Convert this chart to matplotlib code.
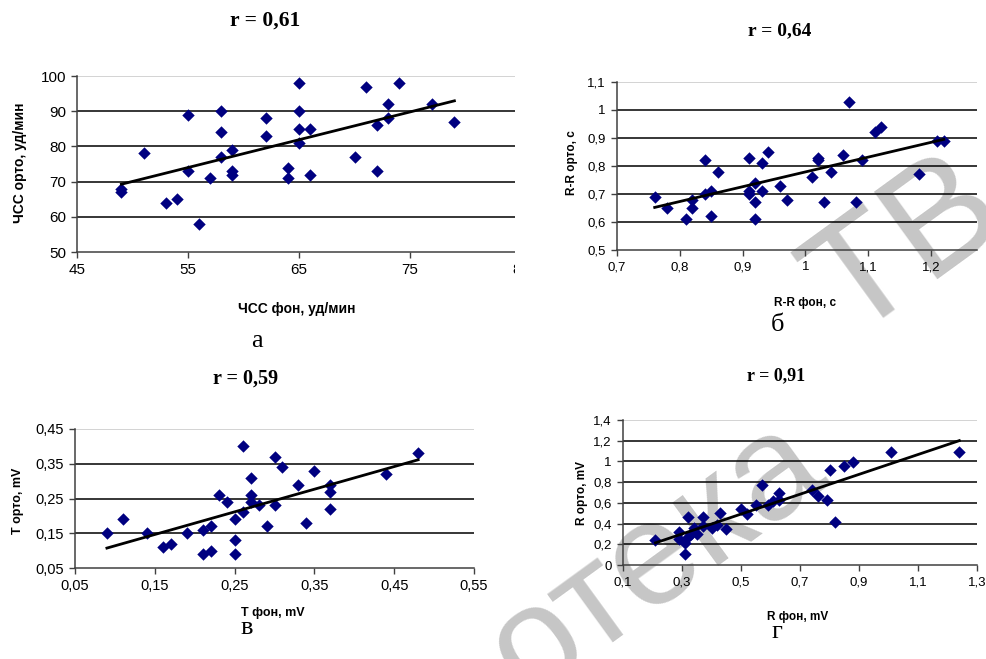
# - Importación de librerías:

import numpy as np
import matplotlib
matplotlib.use("Agg")
import matplotlib.pyplot as plt
from matplotlib.patches import Rectangle
from matplotlib.ticker import FuncFormatter

# - Datos:

# а) ЧСС
hr_fon = [49, 49, 51, 53, 54, 55, 55, 56, 57, 58, 58, 58, 59, 59, 59, 62, 62,
          64, 64, 65, 65, 65, 65, 66, 66, 70, 71, 72, 72, 73, 73, 74, 77, 79]
hr_orto = [68, 67, 78, 64, 65, 89, 73, 58, 71, 90, 84, 77, 79, 73, 72, 88, 83,
           74, 71, 98, 90, 85, 81, 85, 72, 77, 97, 86, 73, 92, 88, 98, 92, 87]

# б) R-R
rr_fon = [0.76, 0.78, 0.81, 0.82, 0.82, 0.84, 0.84, 0.85, 0.85, 0.86, 0.91, 0.91,
          0.91, 0.92, 0.92, 0.92, 0.93, 0.93, 0.94, 0.96, 0.97, 1.01, 1.02, 1.02,
          1.03, 1.04, 1.06, 1.07, 1.08, 1.09, 1.11, 1.12, 1.18, 1.21, 1.22]
rr_orto = [0.69, 0.65, 0.61, 0.65, 0.68, 0.82, 0.70, 0.71, 0.62, 0.78, 0.83, 0.71,
           0.70, 0.74, 0.67, 0.61, 0.81, 0.71, 0.85, 0.73, 0.68, 0.76, 0.83, 0.82,
           0.67, 0.78, 0.84, 1.03, 0.67, 0.82, 0.92, 0.94, 0.77, 0.89, 0.89]

# в) T
t_fon = [0.09, 0.11, 0.14, 0.16, 0.17, 0.19, 0.21, 0.21, 0.22, 0.22, 0.23, 0.24,
         0.25, 0.25, 0.25, 0.26, 0.26, 0.27, 0.27, 0.27, 0.28, 0.29, 0.30, 0.30,
         0.31, 0.33, 0.34, 0.35, 0.37, 0.37, 0.37, 0.44, 0.48]
t_orto = [0.15, 0.19, 0.15, 0.11, 0.12, 0.15, 0.16, 0.09, 0.17, 0.10, 0.26, 0.24,
          0.19, 0.13, 0.09, 0.40, 0.21, 0.31, 0.26, 0.24, 0.23, 0.17, 0.37, 0.23,
          0.34, 0.29, 0.18, 0.33, 0.29, 0.27, 0.22, 0.32, 0.38]

# г) R
r_fon = [0.21, 0.29, 0.29, 0.31, 0.31, 0.32, 0.32, 0.33, 0.34, 0.35, 0.37, 0.37,
         0.40, 0.42, 0.43, 0.45, 0.50, 0.52, 0.55, 0.57, 0.59, 0.61, 0.63, 0.63,
         0.74, 0.76, 0.79, 0.80, 0.82, 0.85, 0.88, 1.01, 1.24]
r_orto = [0.24, 0.32, 0.25, 0.21, 0.11, 0.46, 0.27, 0.30, 0.36, 0.30, 0.46, 0.38,
          0.36, 0.39, 0.50, 0.35, 0.54, 0.49, 0.58, 0.77, 0.58, 0.62, 0.70, 0.63,
          0.72, 0.67, 0.63, 0.92, 0.42, 0.96, 0.99, 1.09, 1.09]

titles = ["r = 0,61", "r = 0,64", "r = 0,59", "r = 0,91"]
letters = ["а", "б", "в", "г"]

# - Figura:

W, H = 986, 659
fig = plt.figure(figsize=(W / 100, H / 100), dpi=100)
fig.patch.set_facecolor("white")


def box(l, t, r, b):
    return [l / W, 1 - b / H, (r - l) / W, (b - t) / H]


def fmt(v, pos):
    s = ("%.2f" % v).rstrip("0").rstrip(".")
    return s.replace(".", ",")


def panel(rect, x, y, xlim, xticks, ylim, yticks, fs, z=0):
    ax = fig.add_axes(box(*rect), zorder=z)
    ax.set_facecolor("none")
    ax.set_xlim(*xlim)
    ax.set_ylim(*ylim)
    ax.set_xticks(xticks)
    ax.set_yticks(yticks)
    ax.xaxis.set_major_formatter(FuncFormatter(fmt))
    ax.yaxis.set_major_formatter(FuncFormatter(fmt))
    for v in yticks[1:-1]:
        ax.axhline(v, color="black", lw=1.1, zorder=1)
    ax.axhline(yticks[-1], color="#c8c8c8", lw=1.1, zorder=1)
    for s in ["top", "right"]:
        ax.spines[s].set_visible(False)
    for s in ["left", "bottom"]:
        ax.spines[s].set_color("#404040")
        ax.spines[s].set_linewidth(1.1)
    ax.tick_params(direction="out", length=4, width=1, color="#404040",
                   labelsize=fs, labelfontfamily="Liberation Sans", pad=4)
    ax.scatter(x, y, marker="D", s=40, color="#000080", zorder=3,
               linewidths=0)
    k, c = np.polyfit(x, y, 1)
    xs = np.array([min(x), max(x)])
    ax.plot(xs, k * xs + c, color="black", lw=2, zorder=4)
    return ax


# а
ax1 = panel((77, 76, 521, 252), hr_fon, hr_orto, (45, 85), [45, 55, 65, 75, 85],
            (50, 100), [50, 60, 70, 80, 90, 100], 11)
# б
ax2 = panel((617, 82, 977, 250), rr_fon, rr_orto, (0.7, 1.273),
            [0.7, 0.8, 0.9, 1.0, 1.1, 1.2], (0.5, 1.1),
            [0.5, 0.6, 0.7, 0.8, 0.9, 1.0, 1.1], 9.5, z=2)
# в
ax3 = panel((75, 429, 474, 568), t_fon, t_orto, (0.05, 0.55),
            [0.05, 0.15, 0.25, 0.35, 0.45, 0.55], (0.05, 0.45),
            [0.05, 0.15, 0.25, 0.35, 0.45], 10.5)
# г
ax4 = panel((623, 420, 977, 565), r_fon, r_orto, (0.1, 1.3),
            [0.1, 0.3, 0.5, 0.7, 0.9, 1.1, 1.3], (0, 1.4),
            [0, 0.2, 0.4, 0.6, 0.8, 1.0, 1.2, 1.4], 9.5)

# - Recorte del panel а (la imagen original está cortada):

fig.add_artist(Rectangle((515 / W, 1 - 330 / H), 100 / W, 275 / H,
                         transform=fig.transFigure, facecolor="white",
                         edgecolor="none", zorder=1))

# - Textos:

def ftext(x, y, s, **kw):
    fig.text(x / W, 1 - y / H, s, ha="center", va="center", **kw)


sans = dict(family="Liberation Sans", weight="bold")
ftext(297, 309, "ЧСС фон, уд/мин", fontsize=10, **sans)
ftext(20, 163, "ЧСС орто, уд/мин", fontsize=10, rotation=90, **sans)
ftext(805, 303, "R-R фон, с", fontsize=8.5, **sans)
ftext(572, 163, "R-R орто, с", fontsize=8.5, rotation=90, **sans)
ftext(273, 613, "T фон, mV", fontsize=9, **sans)
ftext(18, 501, "T орто, mV", fontsize=9, rotation=90, **sans)
ftext(798, 617, "R фон, mV", fontsize=8.5, **sans)
ftext(582, 493, "R орто, mV", fontsize=8.5, rotation=90, **sans)

serif = dict(family="Liberation Serif")
ftext(265, 21, titles[0], fontsize=15.5, weight="bold", **serif)
ftext(780, 31, titles[1], fontsize=14, weight="bold", **serif)
ftext(246, 379, titles[2], fontsize=14.5, weight="bold", **serif)
ftext(776, 376, titles[3], fontsize=13, weight="bold", **serif)

ftext(257, 341, letters[0], fontsize=19, **serif)
ftext(777, 325, letters[1], fontsize=19, **serif)
ftext(247, 628, letters[2], fontsize=19, **serif)
ftext(777, 632, letters[3], fontsize=19, **serif)

# - Marca de agua:

wm = dict(color="#c6c6c6", rotation=36, rotation_mode="anchor", ha="left",
          va="baseline", family="Liberation Sans", zorder=-1)
fig.text(527 / W, 1 - 700 / H, "отека", fontsize=106, **wm)
fig.text(850 / W, 1 - 340 / H, "ТВ", fontsize=112, **wm)

fig.savefig("out.png", dpi=100)
